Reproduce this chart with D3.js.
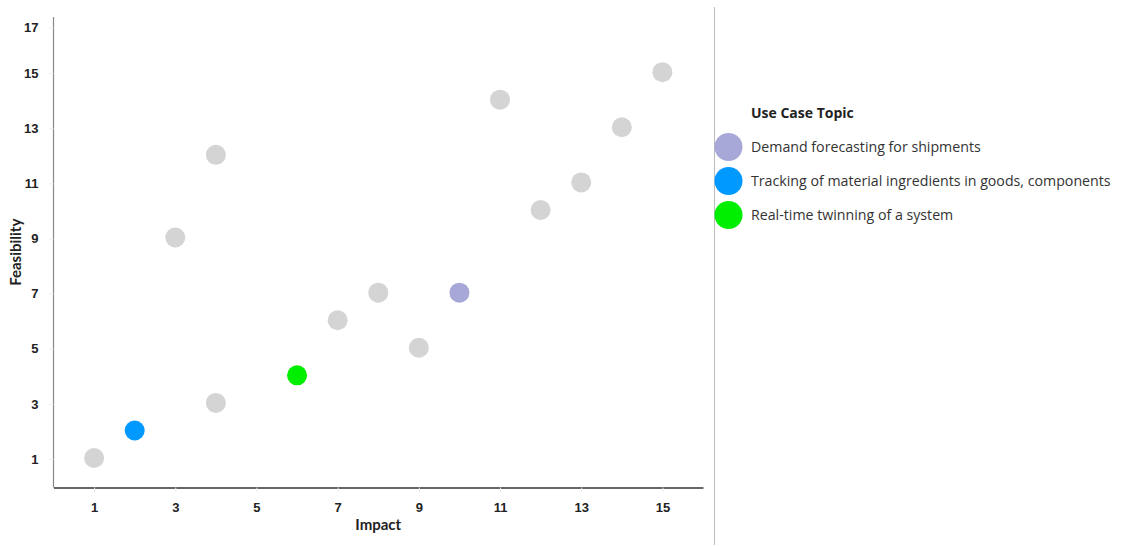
<!DOCTYPE html>
<html><head><meta charset="utf-8">
<script src="https://cdn.jsdelivr.net/npm/d3@7"></script>
<style>body{margin:0;background:#fff;} svg{display:block;font-family:Lato,"Open Sans",sans-serif;}</style>
</head><body><svg id="c" width="1124" height="546"></svg>
<script>
const impact      = [1, 2, 3, 4, 4, 6, 7, 8, 9, 10, 11, 12, 13, 14, 15];
const feasibility = [1, 2, 9, 12, 3, 4, 6, 7, 5, 7, 14, 10, 11, 13, 15];
const topic       = ["", "Tracking of material ingredients in goods, components", "", "", "", "Real-time twinning of a system", "", "", "", "Demand forecasting for shipments", "", "", "", "", ""];
const legendTopics = ["Demand forecasting for shipments", "Tracking of material ingredients in goods, components", "Real-time twinning of a system"];
const legendColors = ["#a8a8d8", "#0099ff", "#00ee00"];
const xTicks = [1, 3, 5, 7, 9, 11, 13, 15];
const yTicks = [1, 3, 5, 7, 9, 11, 13, 15, 17];

const svg = d3.select("#c");
const L = 53.5, R = 703, T = 17, B = 487.5;
const x = d3.scaleLinear().domain([0, 16]).range([L, R]);
const y = d3.scaleLinear().domain([0, 17]).range([485.6, T]);
const color = d3.scaleOrdinal().domain(legendTopics).range(legendColors).unknown("#d4d4d4");

// x axis
const gx = svg.append("g").attr("transform", `translate(0,${B})`)
  .call(d3.axisBottom(x).tickValues(xTicks).tickSize(5).tickPadding(8).tickSizeOuter(0));
gx.select(".domain").attr("stroke", "#333").attr("stroke-width", 1.3);
gx.selectAll(".tick line").attr("stroke", "#eee");
gx.selectAll(".tick text").attr("font-size", 13).attr("font-weight", "bold").attr("fill", "#222").attr("dy", "0.9em");

// y axis
const gy = svg.append("g").attr("transform", `translate(${L},0)`)
  .call(d3.axisLeft(y).tickValues(yTicks).tickSize(5).tickPadding(10).tickSizeOuter(0));
gy.select(".domain").attr("stroke", "#888").attr("stroke-width", 1.2).attr("d", `M0,${T}V${B}`);
gy.selectAll(".tick line").attr("stroke", "#eee");
gy.selectAll(".tick text").attr("font-size", 13).attr("font-weight", "bold").attr("fill", "#222");
gy.selectAll(".tick").attr("transform", d => `translate(0,${Math.max(y(d) + 1.5, 28)})`);

// axis titles
svg.append("text").attr("x", (L + R) / 2).attr("y", 530).attr("text-anchor", "middle")
  .attr("font-size", 15).attr("font-weight", "bold").attr("fill", "#222").text("Impact");
svg.append("text").attr("transform", `translate(21,${(T + B) / 2}) rotate(-90)`).attr("text-anchor", "middle")
  .attr("font-size", 15).attr("font-weight", "bold").attr("fill", "#222").text("Feasibility");

// points
svg.append("g").selectAll("circle").data(impact.map((d, i) => ({x: d, y: feasibility[i], t: topic[i]})))
  .join("circle")
  .attr("cx", d => x(d.x)).attr("cy", d => y(d.y)).attr("r", 10)
  .attr("fill", d => color(d.t || null));

// separator
svg.append("line").attr("x1", 714.5).attr("x2", 714.5).attr("y1", 7).attr("y2", 545)
  .attr("stroke", "#bbb").attr("stroke-width", 1);

// legend
const lg = svg.append("g").style("font-family", "'Open Sans', sans-serif");
lg.append("text").attr("x", 751).attr("y", 118).attr("font-size", 14).attr("font-weight", "bold").attr("fill", "#222").text("Use Case Topic");
const items = lg.selectAll("g.item").data(legendTopics).join("g").attr("class", "item")
  .attr("transform", (d, i) => `translate(0,${147 + i * 34})`);
items.append("circle").attr("cx", 728.5).attr("cy", 0).attr("r", 14).attr("fill", d => color(d));
items.append("text").attr("x", 751).attr("y", 5).attr("font-size", 14.2).attr("fill", "#333").text(d => d);
</script></body></html>
